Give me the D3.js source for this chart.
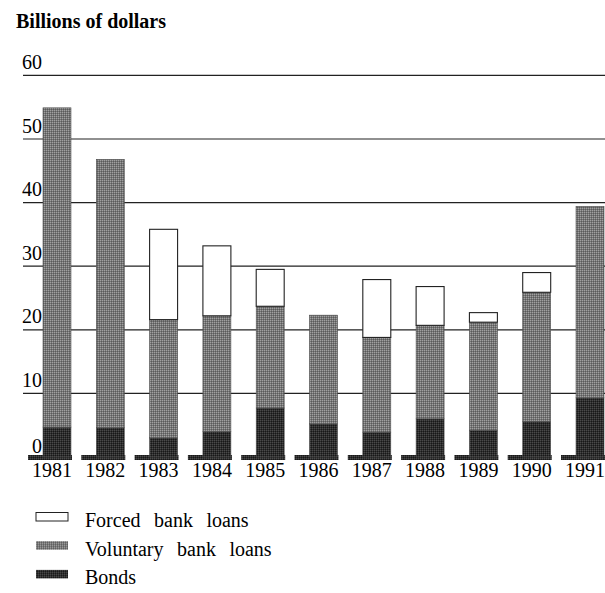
<!DOCTYPE html>
<html>
<head>
<meta charset="utf-8">
<script src="https://cdn.jsdelivr.net/npm/d3@7"></script>
<style>
  body { margin: 0; background: #fff; }
  text { font-family: "Liberation Serif", "DejaVu Serif", serif; }
</style>
</head>
<body>
<div id="chart"></div>
<script>
// values, billions of dollars
const years = ["1981", "1982", "1983", "1984", "1985", "1986", "1987", "1988", "1989", "1990", "1991"];
const bonds = [4.7, 4.6, 3.0, 4.0, 7.7, 5.2, 3.9, 6.0, 4.2, 5.6, 9.3];
const voluntary = [50.2, 42.2, 18.6, 18.2, 16.0, 17.1, 14.9, 14.7, 17.0, 20.3, 30.1];
const forced = [0, 0, 14.2, 11.0, 5.8, 0, 9.1, 6.1, 1.5, 3.1, 0];
const yTicks = [0, 10, 20, 30, 40, 50, 60];
const seriesKeys = ["bonds", "voluntary", "forced"];
const legendLabels = ["Forced bank loans", "Voluntary bank loans", "Bonds"];

const width = 605;
const height = 593;
const serif = "Liberation Serif, DejaVu Serif, serif";

const rows = years.map((year, i) => ({
  year,
  bonds: bonds[i],
  voluntary: voluntary[i],
  forced: forced[i],
}));

const svg = d3.select("#chart").append("svg")
  .attr("width", width)
  .attr("height", height)
  .style("display", "block");

// halftone-ish fills like the printed original
const defs = svg.append("defs");

function halftone(id, base, light, dark) {
  const p = defs.append("pattern")
    .attr("id", id)
    .attr("width", 2)
    .attr("height", 2)
    .attr("patternUnits", "userSpaceOnUse");
  p.append("rect").attr("width", 2).attr("height", 2).attr("fill", base);
  p.append("rect").attr("x", 0).attr("y", 0).attr("width", 1).attr("height", 1).attr("fill", light);
  p.append("rect").attr("x", 1).attr("y", 1).attr("width", 1).attr("height", 1).attr("fill", dark);
}
halftone("pat-voluntary", "#767676", "#a0a0a0", "#5a5a5a");
halftone("pat-bonds", "#2e2e2e", "#4a4a4a", "#181818");

const fills = {
  forced: "#fff",
  voluntary: "url(#pat-voluntary)",
  bonds: "url(#pat-bonds)",
};

const x = d3.scaleBand()
  .domain(years)
  .range([43, 604])
  .paddingInner(0.475)
  .paddingOuter(0);

const y = d3.scaleLinear()
  .domain([0, 60])
  .range([457, 75.4]);

// header
svg.append("text")
  .attr("x", 16)
  .attr("y", 28)
  .attr("font-family", serif)
  .attr("font-size", 20)
  .attr("font-weight", "bold")
  .text("Billions of dollars");

// gridlines (no line at zero, the base strips take its place)
svg.append("g")
  .selectAll("line")
  .data(yTicks.filter((d) => d > 0))
  .join("line")
  .attr("x1", 23)
  .attr("x2", width)
  .attr("y1", (d) => y(d))
  .attr("y2", (d) => y(d))
  .attr("stroke", "#222")
  .attr("stroke-width", 1.2);

// base strips under each bar
svg.append("g")
  .selectAll("rect")
  .data(years)
  .join("rect")
  .attr("x", (d) => x(d) - 15)
  .attr("y", y(0) - 2)
  .attr("width", x.bandwidth() + 16)
  .attr("height", 5)
  .attr("fill", "url(#pat-bonds)");

// stacked bars
const stacked = d3.stack().keys(seriesKeys)(rows);

svg.append("g")
  .selectAll("g")
  .data(stacked)
  .join("g")
  .attr("fill", (s) => fills[s.key])
  .attr("stroke", (s) => (s.key === "forced" ? "#222" : "#4a4a4a"))
  .attr("stroke-width", (s) => (s.key === "forced" ? 1.1 : 0.6))
  .selectAll("rect")
  .data((s) => s.filter((d) => d[1] - d[0] > 0))
  .join("rect")
  .attr("x", (d) => x(d.data.year))
  .attr("y", (d) => y(d[1]))
  .attr("width", x.bandwidth())
  .attr("height", (d) => y(d[0]) - y(d[1]));

// y tick labels, sitting above their gridline
svg.append("g")
  .selectAll("text")
  .data(yTicks)
  .join("text")
  .attr("x", 42)
  .attr("y", (d) => y(d) - (d === 0 ? 4 : 6.5))
  .attr("text-anchor", "end")
  .attr("font-family", serif)
  .attr("font-size", 20)
  .text((d) => d);

// year labels
svg.append("g")
  .selectAll("text")
  .data(years)
  .join("text")
  .attr("x", (d) => x(d) + x.bandwidth() / 2 - 5)
  .attr("y", 477)
  .attr("text-anchor", "middle")
  .attr("font-family", serif)
  .attr("font-size", 20)
  .text((d) => d);

// legend
const legendFills = [fills.forced, fills.voluntary, fills.bonds];
const legend = svg.append("g")
  .selectAll("g")
  .data(legendLabels)
  .join("g")
  .attr("transform", (d, i) => `translate(0, ${512.5 + i * 28.7})`);

legend.append("rect")
  .attr("x", 36)
  .attr("y", 0)
  .attr("width", 32)
  .attr("height", 8.5)
  .attr("fill", (d, i) => legendFills[i])
  .attr("stroke", (d, i) => (i === 0 ? "#222" : "none"))
  .attr("stroke-width", 1);

legend.append("text")
  .attr("x", 85)
  .attr("y", 14.5)
  .attr("font-family", serif)
  .attr("font-size", 20)
  .attr("word-spacing", 8.5)
  .text((d) => d);
</script>
</body>
</html>
